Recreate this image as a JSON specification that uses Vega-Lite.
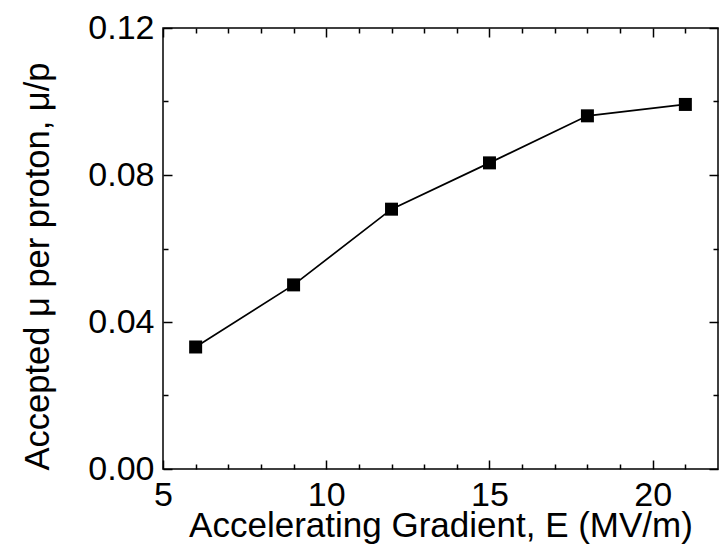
{
  "$schema": "https://vega.github.io/schema/vega-lite/v6.json",
  "width": 555,
  "height": 441,
  "autosize": {"type": "none"},
  "padding": {"left": 163, "top": 28, "right": 3, "bottom": 76},
  "background": "white",
  "config": {
    "font": "Liberation Sans",
    "view": {"stroke": "black", "strokeWidth": 1.5},
    "axis": {
      "grid": false,
      "domain": false,
      "labelColor": "black",
      "labelFont": "Liberation Sans",
      "labelFontSize": 34,
      "titleFont": "Liberation Sans",
      "titleFontWeight": "normal",
      "titleColor": "black"
    }
  },
  "data": {
    "values": [
      {"E": 6, "mu": 0.0332},
      {"E": 9, "mu": 0.0501},
      {"E": 12, "mu": 0.0707},
      {"E": 15, "mu": 0.0833},
      {"E": 18, "mu": 0.0961},
      {"E": 21, "mu": 0.0992}
    ]
  },
  "resolve": {"axis": {"x": "independent", "y": "independent"}},
  "layer": [
    {
      "mark": {"type": "line", "color": "black", "strokeWidth": 1.7},
      "encoding": {
        "x": {
          "field": "E", "type": "quantitative",
          "scale": {"domain": [5, 22], "nice": false, "zero": false},
          "axis": {
            "orient": "bottom", "values": [5, 10, 15, 20],
            "ticks": false, "tickSize": 0,
            "labelPadding": 9, "labelFlush": false, "labelOverlap": false,
            "title": "Accelerating Gradient, E (MV/m)",
            "titleFontSize": 35, "titlePadding": -4
          }
        },
        "y": {
          "field": "mu", "type": "quantitative",
          "scale": {"domain": [0, 0.12], "nice": false},
          "axis": {
            "orient": "left", "values": [0, 0.04, 0.08, 0.12], "format": ".2f",
            "ticks": false, "tickSize": 0,
            "labelPadding": 9, "labelFlush": false, "labelOverlap": false,
            "title": "Accepted μ per proton, μ/p",
            "titleFontSize": 34.5, "titlePadding": 32, "titleY": 238
          }
        }
      }
    },
    {
      "mark": {"type": "point", "shape": "square", "filled": true, "color": "black", "size": 169, "opacity": 1},
      "encoding": {
        "x": {"field": "E", "type": "quantitative", "axis": null},
        "y": {"field": "mu", "type": "quantitative", "axis": null}
      }
    },
    {
      "mark": {"type": "point", "opacity": 0},
      "encoding": {
        "x": {
          "field": "E", "type": "quantitative",
          "axis": {
            "orient": "bottom", "values": [5, 10, 15, 20],
            "ticks": true, "tickColor": "black", "tickWidth": 1.5, "tickSize": -9,
            "labels": false, "title": null
          }
        },
        "y": {
          "field": "mu", "type": "quantitative",
          "axis": {
            "orient": "left", "values": [0, 0.04, 0.08, 0.12],
            "ticks": true, "tickColor": "black", "tickWidth": 1.5, "tickSize": -9,
            "labels": false, "title": null
          }
        }
      }
    },
    {
      "mark": {"type": "point", "opacity": 0},
      "encoding": {
        "x": {
          "field": "E", "type": "quantitative",
          "axis": {
            "orient": "bottom",
            "values": [6, 7, 8, 9, 11, 12, 13, 14, 16, 17, 18, 19, 21],
            "ticks": true, "tickColor": "black", "tickWidth": 1.5, "tickSize": -5,
            "labels": false, "title": null
          }
        },
        "y": {
          "field": "mu", "type": "quantitative",
          "axis": {
            "orient": "left", "values": [0.02, 0.06, 0.1],
            "ticks": true, "tickColor": "black", "tickWidth": 1.5, "tickSize": -5,
            "labels": false, "title": null
          }
        }
      }
    },
    {
      "mark": {"type": "point", "opacity": 0},
      "encoding": {
        "x": {
          "field": "E", "type": "quantitative",
          "axis": {
            "orient": "top", "values": [5, 10, 15, 20],
            "ticks": true, "tickColor": "black", "tickWidth": 1.5, "tickSize": -9,
            "labels": false, "title": null
          }
        },
        "y": {
          "field": "mu", "type": "quantitative",
          "axis": {
            "orient": "right", "values": [0, 0.04, 0.08, 0.12],
            "ticks": true, "tickColor": "black", "tickWidth": 1.5, "tickSize": -9,
            "labels": false, "title": null
          }
        }
      }
    },
    {
      "mark": {"type": "point", "opacity": 0},
      "encoding": {
        "x": {
          "field": "E", "type": "quantitative",
          "axis": {
            "orient": "top",
            "values": [6, 7, 8, 9, 11, 12, 13, 14, 16, 17, 18, 19, 21],
            "ticks": true, "tickColor": "black", "tickWidth": 1.5, "tickSize": -5,
            "labels": false, "title": null
          }
        },
        "y": {
          "field": "mu", "type": "quantitative",
          "axis": {
            "orient": "right", "values": [0.02, 0.06, 0.1],
            "ticks": true, "tickColor": "black", "tickWidth": 1.5, "tickSize": -5,
            "labels": false, "title": null
          }
        }
      }
    }
  ]
}
